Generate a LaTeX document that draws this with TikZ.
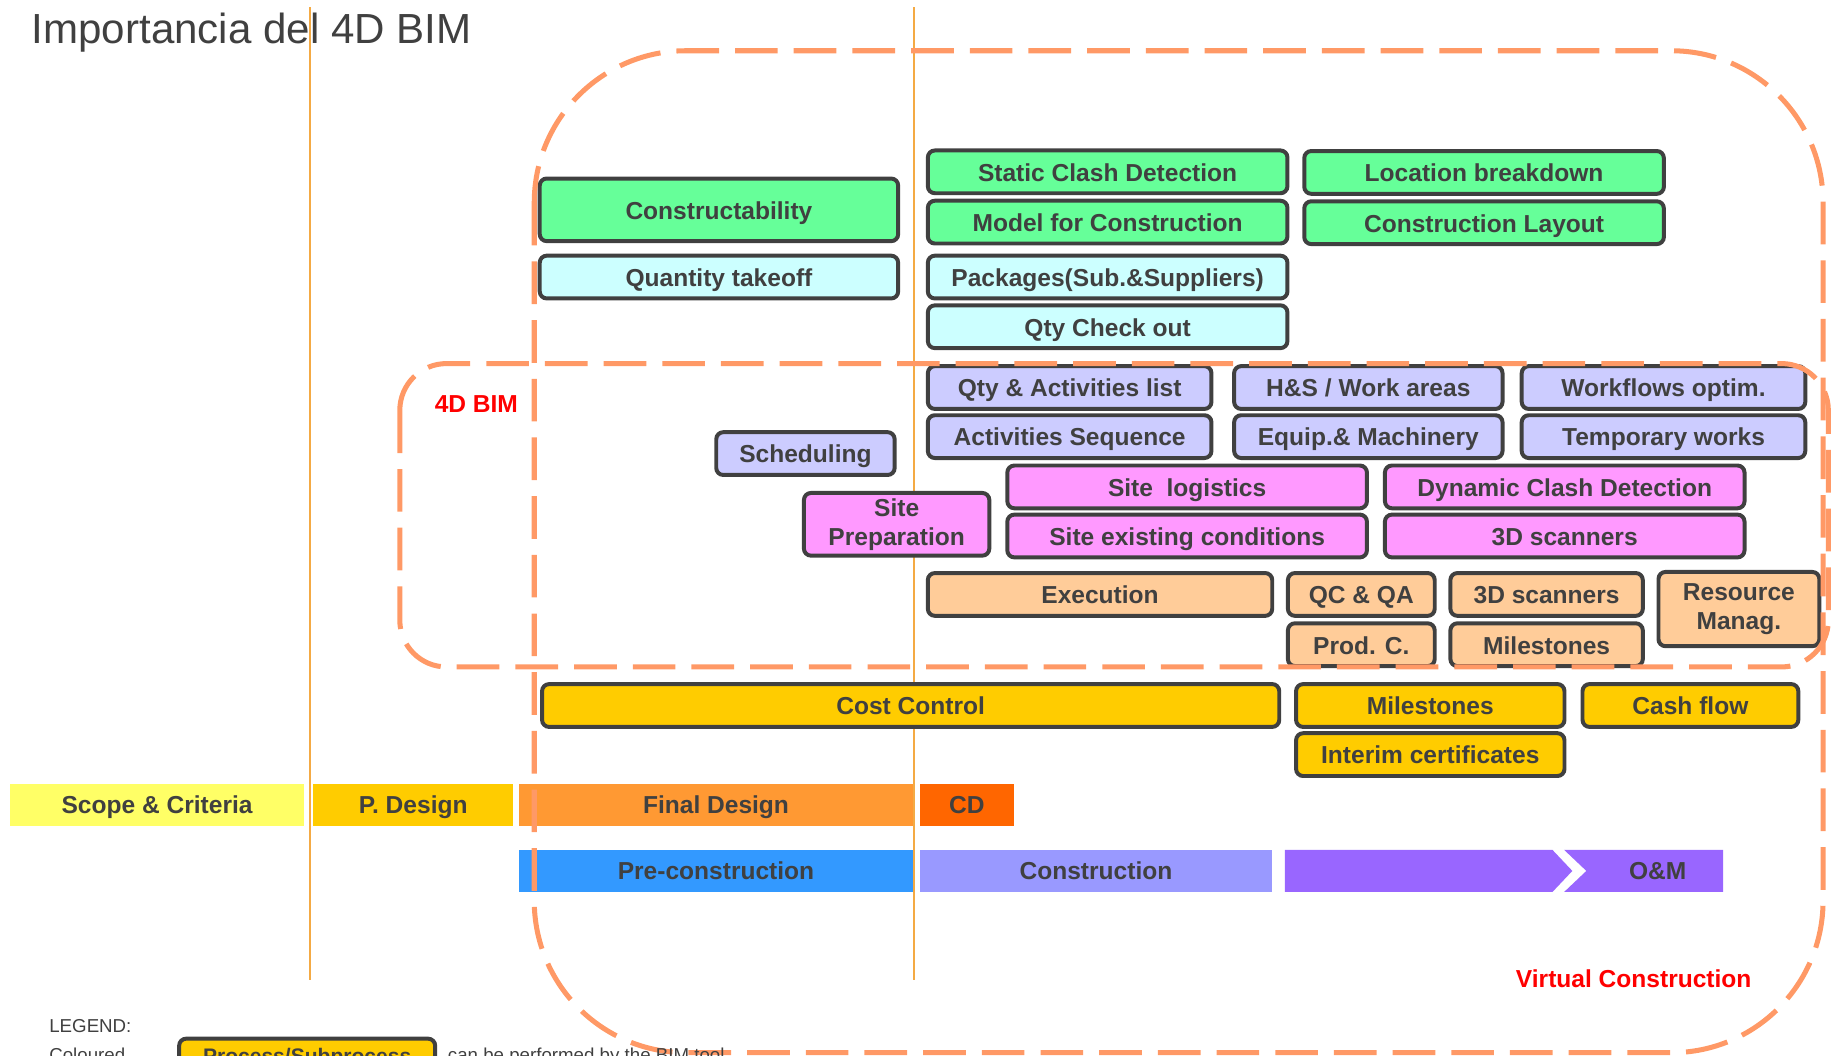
\documentclass[tikz,border=0pt]{standalone}
\usepackage{fontspec}
\setmainfont{Liberation Sans}
\usepackage{tikz}
\usepackage{xcolor}
\definecolor{edge}{HTML}{404040}
\definecolor{guide}{HTML}{F4AA44}
\definecolor{zone}{HTML}{FF9966}
\definecolor{model}{HTML}{66FF99}
\definecolor{qty}{HTML}{CCFFFF}
\definecolor{plan}{HTML}{CCCCFF}
\definecolor{site}{HTML}{FF99FF}
\definecolor{build}{HTML}{FFCC99}
\definecolor{money}{HTML}{FFCC00}
\definecolor{scope}{HTML}{FFFF66}
\definecolor{final}{HTML}{FF9933}
\definecolor{cdoc}{HTML}{FF6600}
\definecolor{precon}{HTML}{3399FF}
\definecolor{constr}{HTML}{9999FF}
\definecolor{operate}{HTML}{9966FF}
\tikzset{
  box/.style={draw=edge, line width=3.4pt, rounded corners=6pt, inner sep=0pt,
              text=edge, align=center, font=\bfseries\fontsize{21}{25}\selectfont},
  row/.style={box, minimum height=36.6pt, text height=16pt, text depth=0pt},
  phase/.style={inner sep=0pt, minimum height=36pt, text=edge,
                font=\bfseries\fontsize{21}{25}\selectfont, text height=15pt, text depth=0pt},
  area/.style={draw=zone, line width=4.3pt, dash pattern=on 36.5pt off 13.7pt},
  tag/.style={inner sep=0pt, text=red, font=\bfseries\fontsize{21}{25}\selectfont,
              text height=15pt, text depth=0pt},
  note/.style={inner sep=0pt, text=edge, anchor=base west}
}
\begin{document}
\begin{tikzpicture}[x=1pt, y=-1pt]
    \useasboundingbox (0,0) rectangle (1568,903);

    \draw[guide, line width=1.5pt] (265,6) -- (265,838);
    \draw[guide, line width=1.5pt] (782,6) -- (782,838);

    \node[note, font=\fontsize{36}{40}\selectfont] (title) at (27,37) {Importancia del 4D BIM};

    \node[phase, fill=scope, minimum width=251.3pt] (scope) at (134.4,688.8) {Scope \& Criteria};
    \node[phase, fill=money, minimum width=171pt] (pdesign) at (353.5,688.8) {P. Design};
    \node[phase, fill=final, minimum width=337pt] (fdesign) at (612.5,688.8) {Final Design};
    \node[phase, fill=cdoc, minimum width=80pt] (cd) at (827,688.8) {CD};
    \node[phase, fill=precon, minimum width=337pt] (precon) at (612.5,745) {Pre-construction};
    \node[phase, fill=constr, minimum width=301pt] (constr) at (937.5,745) {Construction};
    \fill[operate] (1099,727) -- (1328,727) -- (1345,745) -- (1328,763) -- (1099,763) -- cycle;
    \fill[operate] (1338,727) -- (1474,727) -- (1474,763) -- (1338,763) -- (1357,745) -- cycle;
    \node[phase] (om) at (1418,745) {O\&M};

    \node[box, fill=model, minimum width=306.6pt, minimum height=53.6pt,
          text height=16pt, text depth=0pt] (buildable) at (615,179.5) {Constructability};
    \node[row, fill=model, minimum width=307.6pt] (static) at (947.5,147) {Static Clash Detection};
    \node[row, fill=model, minimum width=307.6pt] (modelc) at (947.5,190) {Model for Construction};
    \node[row, fill=model, minimum width=307.6pt] (location) at (1269.5,147.5) {Location breakdown};
    \node[row, fill=model, minimum width=307.6pt] (layout) at (1269.5,190.5) {Construction Layout};

    \node[row, fill=qty, minimum width=306.6pt] (takeoff) at (615,237) {Quantity takeoff};
    \node[row, fill=qty, minimum width=307.6pt] (packages) at (947.5,237) {Packages(Sub.\&Suppliers)};
    \node[row, fill=qty, minimum width=307.6pt] (checkout) at (947.5,279.5) {Qty Check out};

    \node[row, fill=plan, minimum width=242.6pt] (actlist) at (915,331.5) {Qty \& Activities list};
    \node[row, fill=plan, minimum width=242.6pt] (actseq) at (915,373.5) {Activities Sequence};
    \node[row, fill=plan, minimum width=229.6pt] (hs) at (1170.5,331.5) {H\&S / Work areas};
    \node[row, fill=plan, minimum width=229.6pt] (equip) at (1170.5,373.5) {Equip.\& Machinery};
    \node[row, fill=plan, minimum width=242.6pt] (workflow) at (1423,331.5) {Workflows optim.};
    \node[row, fill=plan, minimum width=242.6pt] (temporary) at (1423,373.5) {Temporary works};
    \node[row, fill=plan, minimum width=152.6pt] (schedule) at (689,388) {Scheduling};

    \node[box, fill=site, minimum width=158.6pt, minimum height=53.6pt] (siteprep) at (767,448.5) {Site\\Preparation};
    \node[row, fill=site, minimum width=307.6pt] (logistics) at (1015.5,416.5) {Site\ \ logistics};
    \node[row, fill=site, minimum width=307.6pt] (existing) at (1015.5,458.5) {Site existing conditions};
    \node[row, fill=site, minimum width=307.6pt] (dynamic) at (1338.5,416.5) {Dynamic Clash Detection};
    \node[row, fill=site, minimum width=307.6pt] (scanpre) at (1338.5,458.5) {3D scanners};

    \node[row, fill=build, minimum width=294.6pt] (execution) at (941,508.5) {Execution};
    \node[row, fill=build, minimum width=125.6pt] (qcqa) at (1164.5,508.5) {QC \& QA};
    \node[row, fill=build, minimum width=125.6pt] (prodc) at (1164.5,551.5) {Prod. C.};
    \node[row, fill=build, minimum width=164.6pt] (scanbuild) at (1323,508.5) {3D scanners};
    \node[row, fill=build, minimum width=164.6pt] (milebuild) at (1323,551.5) {Milestones};
    \node[box, fill=build, minimum width=137.6pt, minimum height=63.5pt] (resource) at (1487.5,521) {Resource\\Manag.};

    \node[row, fill=money, minimum width=630.6pt] (cost) at (779,603.5) {Cost Control};
    \node[row, fill=money, minimum width=229.6pt] (milecost) at (1223.5,603.5) {Milestones};
    \node[row, fill=money, minimum width=184.6pt] (cashflow) at (1446,603.5) {Cash flow};
    \node[row, fill=money, minimum width=229.6pt] (interim) at (1223.5,645.5) {Interim certificates};

    \draw[area, rounded corners=130pt] (457,43.4) rectangle (1559.5,900.5);
    \draw[area, rounded corners=40pt] (342,311) rectangle (1564,570.5);

    \node[tag] (bimtag) at (407.5,345.5) {4D BIM};
    \node[tag] (virtualtag) at (1397.5,837.5) {Virtual Construction};

    \node[note, font=\fontsize{16}{19}\selectfont] (legend) at (42,883.4) {LEGEND:};
    \node[note, font=\fontsize{16}{19}\selectfont] (coloured) at (42,908) {Coloured};
    \node[box, fill=money, minimum width=219pt, minimum height=36.6pt,
          font=\bfseries\fontsize{18}{21}\selectfont, text height=12.9pt, text depth=7.6pt] (sample) at (262.75,906.8) {Process/Subprocess};
    \node[note, font=\fontsize{16}{19}\selectfont] (meaning) at (383,908) {can be performed by the BIM tool};
\end{tikzpicture}
\end{document}
